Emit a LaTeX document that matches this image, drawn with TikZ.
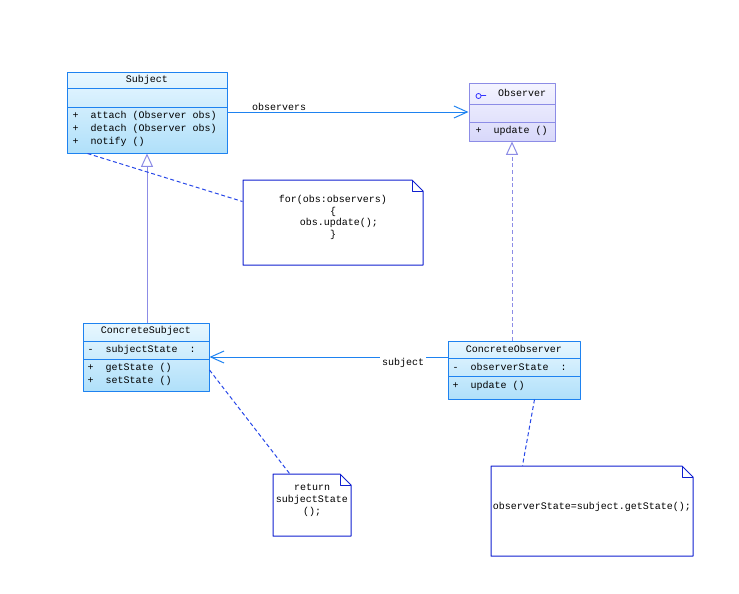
\documentclass[tikz,border=0pt]{standalone}
\usepackage{fontspec}
\newfontfamily\umlfont{Liberation Mono}
\usetikzlibrary{arrows.meta,fit,calc}
\definecolor{classedge}{HTML}{1E82F0}
\definecolor{classtop}{HTML}{E8F7FF}
\definecolor{classbot}{HTML}{B0E0FA}
\definecolor{ifaceedge}{HTML}{8C8CE6}
\definecolor{ifacetop}{HTML}{F4F4FF}
\definecolor{ifacebot}{HTML}{D8D8FA}
\definecolor{noteedge}{HTML}{1020D0}
\definecolor{noteline}{HTML}{2848E8}
\tikzset{
  every picture/.style={line join=round, line width=0.75pt},
  classbox/.style={draw=classedge, top color=classtop, bottom color=classbot, inner sep=0pt},
  ifacebox/.style={draw=ifaceedge, top color=ifacetop, bottom color=ifacebot, inner sep=0pt},
  notebox/.style={inner sep=0pt, align=center, font=\umlfont\fontsize{7.5}{8.8}\selectfont},
  noteedgeline/.style={draw=noteedge, fill=white},
  sepline/.style={draw=classedge},
  isepline/.style={draw=ifaceedge},
  member/.style={anchor=west, inner sep=0pt, font=\umlfont\fontsize{7.5}{9}\selectfont},
  classname/.style={inner sep=0pt, font=\umlfont\fontsize{7.5}{9}\selectfont},
  assoc/.style={draw=classedge, -{Straight Barb[length=10pt,width=9pt]}},
  inherit/.style={draw=ifaceedge, -{Triangle[open,length=10pt,width=9pt,color=ifaceedge,fill=white]}},
  realize/.style={draw=ifaceedge, dash pattern=on 3pt off 2pt, -{Triangle[open,length=10pt,width=9pt,color=ifaceedge,fill=white]}},
  anchorline/.style={draw=noteline, dash pattern=on 3pt off 2pt},
}

\begin{document}
\begin{tikzpicture}[x=0.75pt,y=-0.75pt]
\useasboundingbox (0,0) rectangle (739,593);

% Subject
\node[classbox, fit={(67,72)(227,153)}] (subject) {};
\draw[sepline] (67,88) -- (227,88);
\draw[sepline] (67,107) -- (227,107);
\node[classname] (subjectname) at (147,80) {Subject};
\node[member] (subjectattach) at (72,116) {+\ \ attach (Observer obs)};
\node[member] (subjectdetach) at (72,129) {+\ \ detach (Observer obs)};
\node[member] (subjectnotify) at (72,142) {+\ \ notify ()};

% Observer
\node[ifacebox, fit={(469,83)(555,141)}] (observer) {};
\draw[isepline] (469,104) -- (555,104);
\draw[isepline] (469,122) -- (555,122);
\draw[blue!80!white, line width=0.6pt] (478.5,96) circle (1.9pt) (481,95.5) -- (486,95.5);
\node[classname] (observername) at (522,93) {Observer};
\node[member] (observerupdate) at (475,131) {+\ \ update ()};

% ConcreteSubject
\node[classbox, fit={(83,323)(209,391)}] (csubj) {};
\draw[sepline] (83,341) -- (209,341);
\draw[sepline] (83,359) -- (209,359);
\node[classname] (csubjname) at (146,331) {ConcreteSubject};
\node[member] (csubjstate) at (87,350) {-\ \ subjectState\ \ :};
\node[member] (csubjget) at (87,368) {+\ \ getState ()};
\node[member] (csubjset) at (87,381) {+\ \ setState ()};

% ConcreteObserver
\node[classbox, fit={(448,341)(580,399)}] (cobs) {};
\draw[sepline] (448,358) -- (580,358);
\draw[sepline] (448,376) -- (580,376);
\node[classname] (cobsname) at (514,349) {ConcreteObserver};
\node[member] (cobsstate) at (452,367) {-\ \ observerState\ \ :};
\node[member] (cobsupdate) at (452,386) {+\ \ update ()};

% notes
\draw[noteedgeline] (243,265) -- (243,180) -- (412,180) -- (423,191) -- (423,265) -- cycle;
\draw[draw=noteedge] (412,180) |- (423,191);
\node[notebox, fit={(243,180)(423,262)}] (note1) {for(obs:observers)\\\{\\\ \ obs.update();\\\}};

\draw[noteedgeline] (273,536) -- (273,474) -- (340,474) -- (351,485) -- (351,536) -- cycle;
\draw[draw=noteedge] (340,474) |- (351,485);
\node[notebox, fit={(273,474)(351,533)}] (note2) {return\\subjectState\\();};

\draw[noteedgeline] (491,556) -- (491,466) -- (682,466) -- (693,477) -- (693,556) -- cycle;
\draw[draw=noteedge] (682,466) |- (693,477);
\node[notebox, fit={(491,466)(693,556)}] (note3) {observerState=subject.getState();};

% connectors
\draw[assoc] (subject.east |- 0,112) -- (observer.west |- 0,112)
  node[pos=0.095, anchor=south west, inner sep=1pt, font=\umlfont\fontsize{7.5}{9}\selectfont] (observerslabel) {observers};
\draw[inherit] (csubj.north -| subject.south) -- (subject.south);
\draw[realize] (observer.south |- cobs.north) -- (observer.south);
\draw[assoc] (cobs.west |- csubj.east) -- (csubj.east)
  node[pos=0.186, anchor=north, yshift=1pt, fill=white, inner sep=1.5pt, font=\umlfont\fontsize{7.5}{9}\selectfont] (subjectlabel) {subject};
\draw[anchorline] ([xshift=15.75pt]subject.south west) -- ([yshift=-16.5pt]note1.north west);
\draw[anchorline] ([yshift=-9.75pt]csubj.east) -- ([xshift=12.75pt]note2.north west);
\draw[anchorline] ([xshift=65.25pt]cobs.south west) -- ([xshift=24pt]note3.north west);
\end{tikzpicture}
\end{document}
